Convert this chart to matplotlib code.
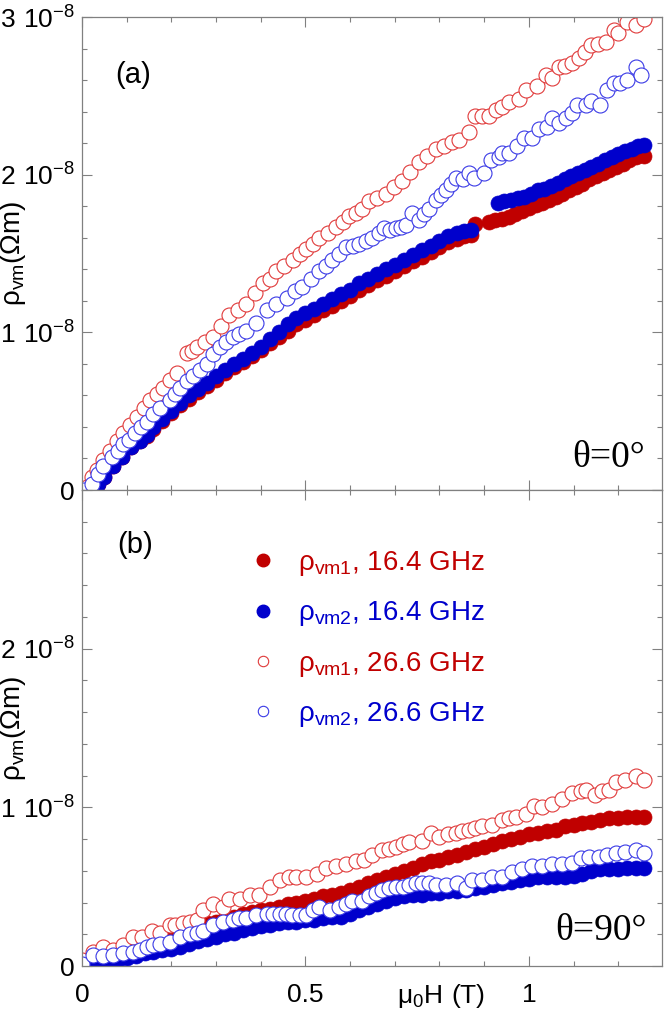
import matplotlib
matplotlib.use("Agg")
import matplotlib.pyplot as plt
from matplotlib.lines import Line2D
from matplotlib.ticker import MultipleLocator

plt.rcParams['font.family'] = ['Liberation Sans', 'DejaVu Sans']

# ---------------- data (field in T, resistivity in units of 1e-8 Ohm m) ----------------
# Panel (a) theta = 0
a_f1_x = [0.02, 0.035, 0.05, 0.07, 0.09, 0.11, 0.13, 0.145, 0.16, 0.18, 0.20, 0.22, 0.24, 0.26, 0.28, 0.30,
          0.32, 0.34, 0.36, 0.38, 0.40, 0.42, 0.44, 0.46, 0.48, 0.50, 0.52, 0.54, 0.56, 0.58, 0.60, 0.62,
          0.64, 0.66, 0.68, 0.70, 0.72, 0.74, 0.76, 0.78, 0.80, 0.82, 0.84, 0.855, 0.87, 0.88,
          0.91, 0.925, 0.94, 0.955, 0.97, 0.985, 1.00, 1.015, 1.03, 1.045, 1.06, 1.075, 1.09, 1.105, 1.12,
          1.135, 1.15, 1.165, 1.18, 1.195, 1.21, 1.225, 1.24, 1.257]
a_f1_y = [0.00, 0.04, 0.08, 0.15, 0.21, 0.27, 0.31, 0.34, 0.39, 0.44, 0.49, 0.54, 0.58, 0.62, 0.66, 0.70,
          0.74, 0.78, 0.81, 0.85, 0.89, 0.93, 0.97, 1.01, 1.05, 1.08, 1.11, 1.14, 1.17, 1.20, 1.23, 1.27,
          1.30, 1.33, 1.36, 1.39, 1.42, 1.45, 1.48, 1.51, 1.54, 1.57, 1.59, 1.61, 1.62, 1.69,
          1.70, 1.71, 1.72, 1.73, 1.75, 1.77, 1.79, 1.81, 1.82, 1.84, 1.86, 1.88, 1.90, 1.92, 1.94,
          1.97, 1.99, 2.01, 2.03, 2.05, 2.07, 2.09, 2.11, 2.12]

a_f2_x = [0.02, 0.035, 0.05, 0.07, 0.09, 0.11, 0.13, 0.145, 0.16, 0.18, 0.20, 0.22, 0.24, 0.26, 0.28, 0.30,
          0.32, 0.34, 0.36, 0.38, 0.40, 0.42, 0.44, 0.46, 0.48, 0.50, 0.52, 0.54, 0.56, 0.58, 0.60, 0.62,
          0.64, 0.66, 0.68, 0.70, 0.72, 0.74, 0.76, 0.78, 0.80, 0.82, 0.84, 0.855, 0.87,
          0.93, 0.945, 0.96, 0.975, 0.99, 1.005, 1.02, 1.035, 1.05, 1.065, 1.08, 1.095, 1.11, 1.125, 1.14,
          1.155, 1.17, 1.185, 1.20, 1.215, 1.23, 1.245, 1.257]
a_f2_y = [0.00, 0.04, 0.08, 0.15, 0.21, 0.27, 0.31, 0.35, 0.40, 0.45, 0.50, 0.55, 0.60, 0.64, 0.68, 0.72,
          0.76, 0.80, 0.83, 0.87, 0.91, 0.96, 1.00, 1.05, 1.09, 1.12, 1.15, 1.18, 1.21, 1.24, 1.27, 1.31,
          1.34, 1.37, 1.40, 1.43, 1.46, 1.49, 1.52, 1.55, 1.58, 1.61, 1.63, 1.64, 1.65,
          1.82, 1.83, 1.84, 1.85, 1.86, 1.88, 1.90, 1.91, 1.93, 1.95, 1.97, 1.99, 2.01, 2.03, 2.05,
          2.07, 2.09, 2.11, 2.13, 2.15, 2.16, 2.18, 2.19]

a_o1_x = [0.011, 0.022, 0.033, 0.048, 0.063, 0.078, 0.092, 0.108, 0.123, 0.138, 0.152, 0.167, 0.181, 0.197,
          0.212, 0.234, 0.246, 0.257, 0.275, 0.293, 0.31, 0.33, 0.35, 0.368, 0.387, 0.405, 0.42, 0.435,
          0.452, 0.472, 0.487, 0.502, 0.516, 0.531, 0.550, 0.569, 0.584, 0.598, 0.613, 0.627, 0.643,
          0.66, 0.68, 0.698, 0.717, 0.735, 0.754, 0.772, 0.792, 0.81, 0.828, 0.844, 0.866, 0.88, 0.895,
          0.91, 0.926, 0.94, 0.955, 0.978, 0.993, 1.018, 1.038, 1.051, 1.067, 1.082, 1.096, 1.112,
          1.126, 1.14, 1.155, 1.172, 1.19, 1.20, 1.219, 1.239, 1.257]
a_o1_y = [0.02, 0.08, 0.13, 0.19, 0.25, 0.31, 0.36, 0.41, 0.46, 0.52, 0.57, 0.61, 0.65, 0.70,
          0.74, 0.87, 0.88, 0.91, 0.94, 0.97, 1.04, 1.11, 1.14, 1.18, 1.25, 1.31, 1.34, 1.39,
          1.42, 1.46, 1.50, 1.53, 1.56, 1.60, 1.63, 1.67, 1.70, 1.74, 1.76, 1.78, 1.83,
          1.85, 1.88, 1.92, 1.96, 2.02, 2.08, 2.12, 2.16, 2.18, 2.21, 2.22, 2.27, 2.37, 2.37,
          2.37, 2.41, 2.43, 2.46, 2.48, 2.54, 2.56, 2.63, 2.61, 2.68, 2.69, 2.71, 2.74,
          2.78, 2.82, 2.83, 2.84, 2.92, 2.90, 2.97, 2.95, 2.99]

a_o2_x = [0.003, 0.022, 0.035, 0.047, 0.067, 0.080, 0.092, 0.105, 0.118, 0.132, 0.145, 0.160, 0.174, 0.196,
          0.208, 0.219, 0.234, 0.248, 0.264, 0.279, 0.294, 0.308, 0.322, 0.337, 0.352, 0.368, 0.39, 0.413,
          0.435, 0.458, 0.476, 0.493, 0.512, 0.531, 0.545, 0.56, 0.575, 0.591, 0.606, 0.621, 0.636, 0.65,
          0.664, 0.676, 0.69, 0.703, 0.715, 0.725, 0.739, 0.754, 0.765, 0.777, 0.792, 0.803, 0.815, 0.826,
          0.837, 0.852, 0.866, 0.877, 0.9, 0.915, 0.933, 0.94, 0.955, 0.973, 0.989, 1.007, 1.022, 1.04,
          1.051, 1.067, 1.083, 1.096, 1.107, 1.127, 1.14, 1.16, 1.174, 1.19, 1.205, 1.219, 1.239, 1.25]
a_o2_y = [0.00, 0.04, 0.10, 0.15, 0.21, 0.25, 0.29, 0.32, 0.36, 0.40, 0.43, 0.48, 0.52, 0.57,
          0.61, 0.65, 0.69, 0.72, 0.76, 0.80, 0.86, 0.91, 0.94, 0.97, 0.99, 1.01, 1.06, 1.14,
          1.18, 1.22, 1.26, 1.29, 1.34, 1.39, 1.42, 1.46, 1.50, 1.54, 1.55, 1.56, 1.58, 1.60,
          1.63, 1.66, 1.65, 1.66, 1.67, 1.68, 1.76, 1.71, 1.75, 1.78, 1.84, 1.87, 1.90, 1.94,
          1.98, 1.97, 2.01, 1.98, 2.01, 2.09, 2.11, 2.14, 2.14, 2.18, 2.23, 2.23, 2.29, 2.30,
          2.36, 2.33, 2.36, 2.39, 2.44, 2.44, 2.47, 2.44, 2.54, 2.58, 2.58, 2.60, 2.68, 2.63]

# Panel (b) theta = 90
b_f1_x = [0.02, 0.04, 0.06, 0.08, 0.10, 0.12, 0.14, 0.16, 0.18, 0.20, 0.22, 0.24, 0.26, 0.28, 0.30, 0.32,
          0.34, 0.36, 0.38, 0.40, 0.42, 0.44, 0.46, 0.48, 0.50, 0.52, 0.54, 0.56, 0.58, 0.60, 0.62, 0.64,
          0.66, 0.68, 0.70, 0.72, 0.74, 0.76, 0.78, 0.80, 0.82, 0.84, 0.86, 0.88, 0.90, 0.92, 0.94, 0.96,
          0.98, 1.00, 1.02, 1.04, 1.06, 1.08, 1.10, 1.12, 1.14, 1.16, 1.18, 1.20, 1.22, 1.24, 1.257]
b_f1_y = [0.03, 0.05, 0.07, 0.09, 0.11, 0.13, 0.15, 0.17, 0.19, 0.21, 0.22, 0.24, 0.25, 0.27, 0.28, 0.30,
          0.31, 0.33, 0.34, 0.35, 0.36, 0.37, 0.39, 0.40, 0.41, 0.42, 0.44, 0.45, 0.46, 0.48, 0.50, 0.52,
          0.54, 0.56, 0.58, 0.60, 0.62, 0.64, 0.66, 0.67, 0.69, 0.70, 0.72, 0.74, 0.75, 0.77, 0.79, 0.80,
          0.81, 0.83, 0.84, 0.85, 0.86, 0.88, 0.89, 0.90, 0.91, 0.92, 0.93, 0.93, 0.94, 0.94, 0.94]

b_f2_x = [0.02, 0.04, 0.06, 0.08, 0.10, 0.12, 0.14, 0.16, 0.18, 0.20, 0.22, 0.24, 0.26, 0.28, 0.30, 0.32,
          0.34, 0.36, 0.38, 0.40, 0.42, 0.44, 0.46, 0.48, 0.50, 0.52, 0.54, 0.56, 0.58, 0.60, 0.62, 0.64,
          0.66, 0.68, 0.70, 0.72, 0.74, 0.76, 0.78, 0.80, 0.82, 0.84, 0.86, 0.88, 0.90, 0.92, 0.94, 0.96,
          0.98, 1.00, 1.02, 1.04, 1.06, 1.08, 1.10, 1.12, 1.14, 1.16, 1.18, 1.20, 1.22, 1.24, 1.257]
b_f2_y = [0.01, 0.02, 0.03, 0.04, 0.05, 0.06, 0.08, 0.09, 0.10, 0.11, 0.12, 0.14, 0.16, 0.17, 0.18, 0.20,
          0.21, 0.23, 0.24, 0.25, 0.26, 0.27, 0.28, 0.28, 0.29, 0.29, 0.30, 0.31, 0.31, 0.33, 0.35, 0.37,
          0.39, 0.41, 0.43, 0.44, 0.45, 0.45, 0.46, 0.46, 0.47, 0.47, 0.48, 0.49, 0.50, 0.51, 0.52, 0.53,
          0.54, 0.55, 0.56, 0.56, 0.56, 0.56, 0.57, 0.58, 0.60, 0.61, 0.61, 0.61, 0.62, 0.62, 0.62]

b_o1_x = [0.0, 0.025, 0.047, 0.07, 0.092, 0.114, 0.134, 0.156, 0.174, 0.196, 0.208, 0.226, 0.242, 0.257,
          0.27, 0.293, 0.315, 0.33, 0.353, 0.375, 0.397, 0.42, 0.442, 0.464, 0.48, 0.502, 0.525, 0.547,
          0.569, 0.591, 0.614, 0.632, 0.650, 0.672, 0.688, 0.703, 0.718, 0.732, 0.761, 0.781, 0.799,
          0.818, 0.837, 0.851, 0.866, 0.880, 0.895, 0.917, 0.94, 0.955, 0.971, 0.993, 1.011, 1.029,
          1.051, 1.074, 1.096, 1.116, 1.129, 1.149, 1.163, 1.179, 1.196, 1.216, 1.239, 1.257]
b_o1_y = [0.04, 0.09, 0.12, 0.10, 0.13, 0.18, 0.18, 0.22, 0.21, 0.26, 0.26, 0.27, 0.28, 0.29,
          0.35, 0.39, 0.37, 0.42, 0.42, 0.45, 0.45, 0.50, 0.54, 0.56, 0.56, 0.56, 0.58, 0.62,
          0.63, 0.64, 0.66, 0.67, 0.70, 0.73, 0.74, 0.75, 0.77, 0.78, 0.79, 0.84, 0.81,
          0.83, 0.84, 0.85, 0.86, 0.87, 0.88, 0.89, 0.92, 0.93, 0.94, 0.96, 1.01, 1.00,
          1.02, 1.05, 1.09, 1.10, 1.11, 1.08, 1.10, 1.11, 1.16, 1.17, 1.20, 1.17]

b_o2_x = [0.0, 0.025, 0.047, 0.07, 0.092, 0.114, 0.13, 0.145, 0.16, 0.174, 0.196, 0.219, 0.241, 0.257,
          0.27, 0.293, 0.315, 0.337, 0.352, 0.368, 0.39, 0.413, 0.428, 0.442, 0.456, 0.471, 0.487, 0.502,
          0.517, 0.531, 0.554, 0.576, 0.59, 0.605, 0.627, 0.643, 0.658, 0.672, 0.688, 0.703, 0.718,
          0.732, 0.747, 0.761, 0.777, 0.792, 0.815, 0.839, 0.859, 0.873, 0.895, 0.917, 0.94, 0.962,
          0.984, 1.007, 1.029, 1.051, 1.074, 1.096, 1.116, 1.134, 1.156, 1.174, 1.194, 1.216, 1.239, 1.257]
b_o2_y = [0.01, 0.07, 0.06, 0.07, 0.08, 0.09, 0.10, 0.12, 0.13, 0.14, 0.15, 0.18, 0.20, 0.21,
          0.22, 0.26, 0.28, 0.29, 0.30, 0.30, 0.32, 0.33, 0.33, 0.33, 0.33, 0.32, 0.32, 0.32,
          0.35, 0.37, 0.35, 0.37, 0.39, 0.41, 0.41, 0.44, 0.46, 0.48, 0.49, 0.50, 0.50,
          0.51, 0.52, 0.52, 0.52, 0.51, 0.51, 0.52, 0.49, 0.54, 0.54, 0.56, 0.56, 0.59,
          0.61, 0.63, 0.63, 0.64, 0.64, 0.65, 0.68, 0.69, 0.69, 0.70, 0.71, 0.72, 0.73, 0.71]

legend_labels = [r'$\mathregular{\rho_{vm1}}$, 16.4 GHz', r'$\mathregular{\rho_{vm2}}$, 16.4 GHz',
                 r'$\mathregular{\rho_{vm1}}$, 26.6 GHz', r'$\mathregular{\rho_{vm2}}$, 26.6 GHz']
ytick_vals = [0, 1, 2, 3]
ytick_labels_a = ['0', r'$\mathregular{1\ 10^{-8}}$', r'$\mathregular{2\ 10^{-8}}$', r'$\mathregular{3\ 10^{-8}}$']
ytick_labels_b = ['0', r'$\mathregular{1\ 10^{-8}}$', r'$\mathregular{2\ 10^{-8}}$', '']
xtick_vals = [0, 0.5, 1]
xtick_labels = ['0', '0.5', '1']

# ---------------- styles ----------------
RED_F = '#C00000'
BLUE_F = '#0000CC'
RED_O = '#E03A3A'
BLUE_O = '#3A3AE6'
SPINE = '#808080'
MS = 10.8
SCALE = 1e-8

fig = plt.figure(figsize=(6.64, 10.15), dpi=100)
ax_a = fig.add_axes([82/664, 1-490/1015, 580/664, 473/1015])
ax_b = fig.add_axes([82/664, 1-966/1015, 580/664, 476/1015])


def draw(ax, f1x, f1y, f2x, f2y, o1x, o1y, o2x, o2y):
    ax.plot(f1x, [v*SCALE for v in f1y], 'o', ls='none', ms=MS, mfc=RED_F, mec=RED_F, mew=0.5)
    ax.plot(f2x, [v*SCALE for v in f2y], 'o', ls='none', ms=MS, mfc=BLUE_F, mec=BLUE_F, mew=0.5)
    ax.plot(o1x, [v*SCALE for v in o1y], 'o', ls='none', ms=MS, mfc='white', mec=RED_O, mew=0.8)
    ax.plot(o2x, [v*SCALE for v in o2y], 'o', ls='none', ms=MS, mfc='white', mec=BLUE_O, mew=0.8)


draw(ax_a, a_f1_x, a_f1_y, a_f2_x, a_f2_y, a_o1_x, a_o1_y, a_o2_x, a_o2_y)
draw(ax_b, b_f1_x, b_f1_y, b_f2_x, b_f2_y, b_o1_x, b_o1_y, b_o2_x, b_o2_y)

for ax, ylabels in ((ax_a, ytick_labels_a), (ax_b, ytick_labels_b)):
    ax.set_xlim(0, 1.298)
    ax.set_ylim(0, 3e-8)
    ax.set_yticks([v*SCALE for v in ytick_vals])
    ax.set_yticklabels(ylabels)
    ax.set_xticks(xtick_vals)
    ax.xaxis.set_minor_locator(MultipleLocator(0.1))
    ax.yaxis.set_minor_locator(MultipleLocator(0.2e-8))
    ax.tick_params(which='both', direction='in', top=True, right=True, colors=SPINE,
                   labelcolor='black', labelsize=19, width=0.8)
    ax.tick_params(which='major', length=7.2)
    ax.tick_params(which='minor', length=3.6)
    ax.tick_params(axis='y', pad=5)
    ax.tick_params(axis='x', pad=12.5)
    for s in ax.spines.values():
        s.set_color(SPINE)
        s.set_linewidth(0.9)
    ax.set_ylabel(r'$\mathregular{\rho_{vm}(\Omega m)}$', fontsize=20, labelpad=0)
    ax.yaxis.set_label_coords(-0.093, 0.5)

ax_a.set_xticklabels([])
ax_b.set_xticklabels(xtick_labels)
ax_b.text(0.619, -0.078, r'$\mathregular{\mu_0H\ (T)}$', transform=ax_b.transAxes,
          ha='center', va='baseline', fontsize=19)

ax_a.text(0.057, 0.877, '(a)', transform=ax_a.transAxes, ha='left', va='center', fontsize=21)
ax_b.text(0.060, 0.884, '(b)', transform=ax_b.transAxes, ha='left', va='center', fontsize=21)

ax_a.text(0.971, 0.049, 'θ=0°', transform=ax_a.transAxes, ha='right', va='baseline',
          fontsize=27, family='Liberation Serif')
ax_b.text(0.974, 0.055, 'θ=90°', transform=ax_b.transAxes, ha='right', va='baseline',
          fontsize=27, family='Liberation Serif')

handles = [
    Line2D([], [], ls='none', marker='o', ms=9, mfc=RED_F, mec=RED_F),
    Line2D([], [], ls='none', marker='o', ms=9, mfc=BLUE_F, mec=BLUE_F),
    Line2D([], [], ls='none', marker='o', ms=7.5, mfc='white', mec=RED_O, mew=0.8),
    Line2D([], [], ls='none', marker='o', ms=7.5, mfc='white', mec=BLUE_O, mew=0.8),
]
ax_b.legend(handles, legend_labels, loc='upper left', bbox_to_anchor=(0.288, 0.876),
            frameon=False, fontsize=20, handlelength=1.0, handletextpad=0.75,
            labelspacing=0.77, borderpad=0, borderaxespad=0,
            labelcolor=[RED_F, BLUE_F, RED_F, BLUE_F])

fig.savefig('out.png', dpi=100)
